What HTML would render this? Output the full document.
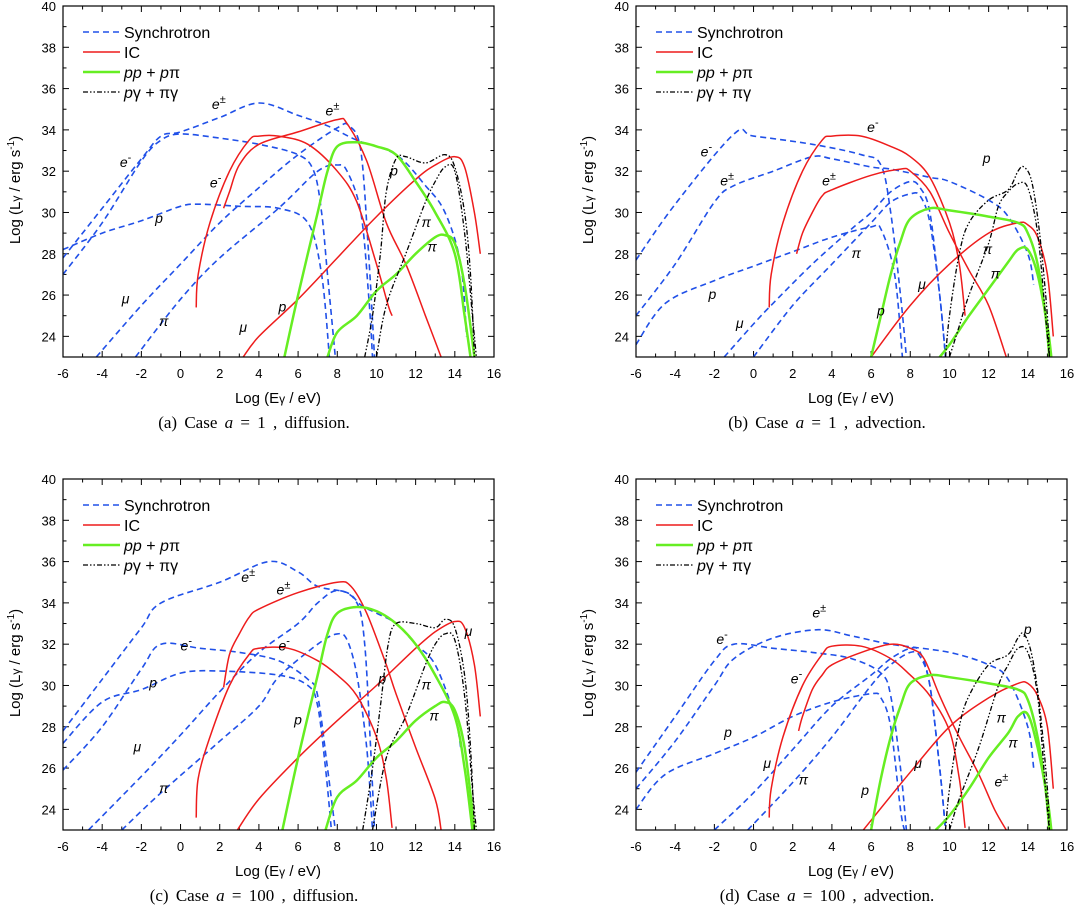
<!DOCTYPE html>
<html><head><meta charset="utf-8"><style>
html,body{margin:0;padding:0;background:#fff;}
svg{display:block;font-family:"Liberation Sans",Arial,sans-serif;}
.cap{font-family:"Liberation Serif",serif;font-size:17px;}
</style></head><body>
<svg id="fig" width="1076" height="905" viewBox="0 0 1076 905"></svg>
<script>
// axis ranges
const xTicks=[-6,-4,-2,0,2,4,6,8,10,12,14,16];
const yTicks=[24,26,28,30,32,34,36,38,40];
const captions=["(a) Case ","(b) Case ","(c) Case ","(d) Case "];
const capA=["1","1","100","100"];
const capMode=["diffusion.","advection.","diffusion.","advection."];

// Panel a
const aSynE=[[-6,27],[-4,29.5],[-2,32.5],[-1,33.5],[0,33.8],[2,33.6],[4,33.3],[6,32.8],[6.8,32],[7.2,30],[7.5,27],[7.9,23]];
const aSynEpm=[[-6,27.8],[-4,30.2],[-2,32.6],[-1,33.7],[0,33.9],[2,34.6],[4,35.3],[6,34.7],[7.5,34.2],[9,33.5],[11,32.8],[12.5,31.3],[13.5,30],[14.3,27.5],[14.6,24]];
const aSynP=[[-6,28.2],[-4,29],[-2,29.6],[0,30.3],[1,30.4],[3,30.3],[5,30.2],[6.5,29.5],[7.2,27],[7.6,23]];
const aSynMu=[[-4.3,23],[-2,25.5],[0,27.5],[2,29.5],[4,31.2],[6,32.8],[8,34.1],[8.6,34.2],[9.2,33],[9.6,28],[9.9,23]];
const aSynPi=[[-2.3,23],[0,25.8],[2,27.8],[5,30.2],[7,32],[8,32.3],[8.5,32],[9.2,30],[9.6,26],[9.8,23]];
const aIcE=[[0.8,25.4],[0.9,27],[1.5,29.5],[2.5,32],[3.5,33.5],[4,33.7],[5,33.7],[6.5,33.3],[8,32],[9,30.5],[10,27.5],[10.6,25.5],[10.8,25]];
const aIcEpm=[[2.2,30.2],[2.5,31],[3,32.3],[4,33.3],[6,33.9],[8,34.5],[8.5,34.3],[9.5,32.5],[10.5,29.5],[11.5,27.5],[12.5,25],[13.3,23]];
const aIcMu=[[3.2,23],[4,24],[6,25.8],[8,27.8],[10,29.8],[12,31.6],[13,32.3],[14,32.7],[14.5,32.2],[15,30],[15.3,28]];
const aPpP=[[5.3,23],[6,26],[7,30],[7.5,32],[8,33.2],[9,33.4],[10,33.2],[11,32.8],[12,31.5],[13,30],[14,28],[14.5,25],[14.8,23]];
const aPpPi=[[7.5,23],[8,24.2],[9,25],[10,26.2],[11,27],[12,28],[13,28.8],[13.5,28.9],[14,28.5],[14.5,26.5],[15,23]];
const aPgP=[[9.4,23],[9.8,25],[10.2,28],[10.5,31],[11,32.6],[11.5,32.7],[12.5,32.4],[13.5,32.8],[14,32.2],[14.5,30],[14.8,27],[15,23]];
const aPgPi=[[10,23],[10.5,25.5],[11.5,28],[12.5,30.5],[13,31.5],[13.5,32.2],[14,32],[14.5,29],[14.9,25],[15.1,23]];

// Panel b
const bSynE=[[-6,27.7],[-4,30.4],[-1,33.8],[0,33.7],[3,33.3],[5.5,32.8],[6.5,32.3],[7,30],[7.5,26],[7.8,23]];
const bSynEpm=[[-6,25],[-4,27.5],[-2,30.5],[-1,31.3],[1,32],[3,32.7],[4,32.6],[6,32.2],[7,32.1],[9,31.7],[10,31.5],[12,30.6],[13,29.8],[14,28],[14.3,26.5]];
const bSynP=[[-6,23.6],[-4.5,25.6],[-2,26.7],[0,27.4],[2,28.1],[4,28.8],[6,29.3],[6.5,29.2],[7.2,27],[7.6,23]];
const bSynMu=[[-1.5,23],[0,24.6],[1,25.6],[3,27.5],[5,29.2],[6,30],[7,31],[8,31.5],[8.5,31.2],[9,30],[9.5,26],[9.8,23]];
const bSynPi=[[0,23],[2,25.5],[4,27.5],[6,29.5],[7,30.5],[8,30.9],[8.5,30.8],[9,29.5],[9.5,26],[9.8,23]];
const bIcE=[[0.8,25.4],[0.9,27],[1.5,29.5],[2.5,32],[3.5,33.5],[4,33.7],[5.5,33.7],[7,33.2],[8,32.7],[9,31.7],[10,29.5],[10.5,27.5],[10.8,25]];
const bIcEpm=[[2.2,28],[2.5,29],[3,30],[3.5,30.8],[4,31.1],[6,31.8],[7.5,32.1],[8,32],[9,31],[10,29],[11,27.2],[12,25.5],[12.9,23]];
const bIcMu=[[6,23],[8,25.5],[10,27.5],[12,29],[13.5,29.5],[14,29.4],[14.5,28.8],[15,27],[15.3,24]];
const bPpP=[[6,23],[6.5,25],[7,27],[7.5,28.6],[8,29.7],[9,30.2],[10,30.1],[12,29.8],[13.5,29.5],[14,29],[14.5,27.5],[14.9,25],[15.1,23]];
const bPpPi=[[9.5,23],[10,23.6],[11,25],[12,26.3],[13,27.6],[13.5,28.2],[14,28.2],[14.5,27],[15,24.5],[15.2,23]];
const bPgP=[[9.8,23],[10,25],[10.5,28],[11,29.5],[12,30.6],[13,31.1],[13.5,32],[13.8,32.2],[14.2,31.5],[14.6,29],[15,25],[15.1,23]];
const bPgPi=[[10,23],[10.5,24.5],[11,26],[12,28.5],[12.5,30.3],[13,31],[13.5,31.4],[14,31.2],[14.5,29],[14.9,25],[15.1,23]];

// Panel c
const cSynE=[[-6,25.9],[-4,28],[-2,30.8],[-1,32],[1,31.8],[3,31.6],[5,31.2],[6.5,30.3],[7,29.5],[7.5,26],[7.9,23]];
const cSynEpm=[[-6,27.8],[-4,30.3],[-2,32.8],[-1,34],[2,35],[4.5,36],[6,35.5],[7,34.8],[8.5,34.5],[9.2,33.9],[10,33.5],[11,33],[12,32],[13,31],[14,28.5],[14.3,27]];
const cSynP=[[-6,27.2],[-4,29.2],[-2,29.8],[0,30.6],[2,30.7],[5,30.5],[6.5,30],[7,29],[7.4,26],[7.7,23]];
const cSynMu=[[-4.7,23],[-2,25.6],[0,27.6],[2,29.7],[4,31.6],[6,33],[7,34],[8,34.6],[9,34],[9.4,32],[9.7,27],[9.9,23]];
const cSynPi=[[-3,23],[-1,24.8],[2,27.3],[4,29],[5,30.4],[7,32],[8,32.5],[8.5,32.2],[9,30.5],[9.5,27],[9.8,23]];
const cIcE=[[0.8,23.6],[0.9,25.5],[1.5,27.5],[2.5,30],[3.5,31.5],[4,31.8],[5.5,31.8],[7,31.2],[8,30.5],[9,29.5],[10,27.5],[10.5,25.5],[10.8,23.1]];
const cIcEpm=[[2.2,29.9],[2.5,31.5],[3,32.5],[3.5,33.3],[4,33.7],[6,34.5],[8,35],[8.7,34.8],[9.5,33.5],[10.5,31],[11,29.6],[12,27],[13,24.5],[13.3,23]];
const cIcMu=[[2.9,23],[4,24.5],[6,26.5],[8,28.3],[10,30],[12,31.8],[13,32.6],[14,33.1],[14.5,32.8],[15,31],[15.3,28.5]];
const cPpP=[[5.2,23],[6,26.5],[7,30.5],[7.5,32.5],[8,33.5],[9,33.8],[10,33.6],[11,33],[12,32],[13,30.5],[14,28.5],[14.5,26],[14.9,23]];
const cPpPi=[[7.4,23],[8,24.6],[9,25.4],[10,26.5],[11,27.3],[12,28.3],[13,29],[13.5,29.2],[14,28.8],[14.5,27],[15,23]];
const cPgP=[[9.3,23],[9.8,26],[10.2,29],[10.6,32],[11,33],[12,33],[13,32.8],[13.5,33.2],[14,32.8],[14.5,30.5],[14.8,27],[15,23]];
const cPgPi=[[9.8,23],[10.5,26.5],[11.5,28.5],[12.5,31],[13,32],[13.5,32.5],[14,32.2],[14.5,29.5],[14.9,25],[15.1,23]];

// Panel d
const dSynE=[[-6,25.8],[-4,28.5],[-2,31.2],[-1,32],[1,31.8],[3,31.6],[5,31.3],[6.5,30.6],[7,29.5],[7.5,26],[7.8,23]];
const dSynEpm=[[-6,25],[-4,27.3],[-2,30],[-1,31.3],[1,32.3],[3.3,32.7],[5,32.4],[7,32],[10,31.6],[12,31],[13,30.3],[14,28],[14.3,26]];
const dSynP=[[-6,24],[-4.5,25.7],[-2,26.7],[0,27.5],[2,28.5],[4,29.2],[6,29.6],[6.5,29.4],[7,28],[7.5,24],[7.7,23]];
const dSynMu=[[-2,23],[0,24.8],[2,26.9],[4,29],[6,30.5],[7,31.3],[8,31.8],[8.5,31.6],[9,30],[9.5,26],[9.8,23]];
const dSynPi=[[-0.3,23],[2,25.3],[4,27.5],[6,30],[7,31],[8,31.6],[8.5,31.4],[9,30],[9.5,26],[9.8,23]];
const dIcE=[[0.8,23.6],[0.9,25],[1.5,27.5],[2.5,30],[3.5,31.5],[4,31.9],[5.5,31.9],[7,31.3],[8,30.5],[9,29.5],[10,27.8],[10.5,25.5],[10.8,23.1]];
const dIcEpm=[[2.3,27.8],[2.5,28.5],[3,29.8],[3.5,30.5],[4,31],[5.5,31.6],[7,32],[8,31.8],[8.7,31.3],[9.5,29.5],[10.5,27.5],[11.5,25.7],[12.3,24],[12.9,23]];
const dIcMu=[[5.6,23],[8,25.8],[10,28],[12,29.4],[13.5,30.1],[14,30.1],[14.5,29.5],[15,28],[15.3,25]];
const dPpP=[[6,23],[6.5,25.5],[7,27.5],[7.5,29],[8,30.1],[9,30.5],[10,30.4],[12,30.1],[13.5,29.8],[14,29.3],[14.5,27.5],[14.9,25],[15.1,23]];
const dPpPi=[[9.3,23],[10,23.7],[11,25],[12,26.5],[13,27.7],[13.5,28.5],[14,28.6],[14.5,27],[15,24.5],[15.2,23]];
const dPgP=[[9.8,23],[10,25],[10.5,28],[11,29.5],[12,31],[13,31.5],[13.5,32.3],[13.8,32.5],[14.2,31.5],[14.6,29],[15,25],[15.1,23]];
const dPgPi=[[10,23],[10.5,24.5],[11.5,27],[12.5,30],[13,31],[13.5,31.8],[14,31.6],[14.5,29.5],[14.9,25],[15.1,23]];

const aLabels=[["e","±",1.6,35.0],["e","±",7.4,34.7],["e","-",-3.1,32.2],["e","-",1.5,31.2],["p","",-1.3,29.5],["p","",10.7,31.8],["π","",12.3,29.3],["π","",12.6,28.1],["μ","",-3.0,25.6],["π","",-1.1,24.5],["μ","",3.0,24.2],["p","",5.0,25.2]];
const bLabels=[["e","-",5.8,33.9],["e","-",-2.7,32.7],["e","±",-1.7,31.3],["e","±",3.5,31.3],["p","",11.7,32.4],["π","",11.7,28.0],["π","",12.1,26.8],["π","",5.0,27.8],["μ","",8.4,26.3],["p","",-2.3,25.8],["μ","",-0.9,24.4],["p","",6.3,25.0]];
const cLabels=[["e","±",3.1,35.0],["e","±",4.9,34.4],["e","-",0.0,31.7],["e","-",5.0,31.7],["μ","",14.5,32.4],["p","",-1.6,29.9],["p","",10.1,30.1],["π","",12.3,29.8],["π","",12.7,28.3],["p","",5.8,28.1],["μ","",-2.4,26.8],["π","",-1.1,24.8]];
const dLabels=[["e","±",3.0,33.3],["e","-",-1.9,32.0],["e","-",1.9,30.1],["p","",13.8,32.5],["π","",12.4,28.2],["π","",13.0,27.0],["p","",-1.5,27.5],["μ","",0.5,26.0],["π","",2.3,25.2],["μ","",8.2,26.0],["p","",5.5,24.7],["e","±",12.3,25.1]];

const panels=[
 {ox:0,oy:0,syn:[aSynE,aSynEpm,aSynP,aSynMu,aSynPi],ic:[aIcE,aIcEpm,aIcMu],pp:[aPpP,aPpPi],pg:[aPgP,aPgPi],labels:aLabels},
 {ox:573,oy:0,syn:[bSynE,bSynEpm,bSynP,bSynMu,bSynPi],ic:[bIcE,bIcEpm,bIcMu],pp:[bPpP,bPpPi],pg:[bPgP,bPgPi],labels:bLabels},
 {ox:0,oy:473,syn:[cSynE,cSynEpm,cSynP,cSynMu,cSynPi],ic:[cIcE,cIcEpm,cIcMu],pp:[cPpP,cPpPi],pg:[cPgP,cPgPi],labels:cLabels},
 {ox:573,oy:473,syn:[dSynE,dSynEpm,dSynP,dSynMu,dSynPi],ic:[dIcE,dIcEpm,dIcMu],pp:[dPpP,dPpPi],pg:[dPgP,dPgPi],labels:dLabels}
];

const NS="http://www.w3.org/2000/svg";
const svg=document.getElementById('fig');
const PL=63,PT=6,PW=431,PH=351,XMIN=-6,XMAX=16,YMIN=23,YMAX=40;
function mk(tag,attrs,parent){const e=document.createElementNS(NS,tag);for(const k in attrs)e.setAttribute(k,attrs[k]);parent.appendChild(e);return e;}

panels.forEach((P,i)=>{
  const sx=v=>P.ox+PL+(v-XMIN)/(XMAX-XMIN)*PW;
  const sy=v=>P.oy+PT+(YMAX-v)/(YMAX-YMIN)*PH;
  const g=mk('g',{},svg);
  
  
  const cp=mk('clipPath',{id:'clip'+i},g);
  mk('rect',{x:P.ox+PL,y:P.oy+PT,width:PW,height:PH},cp);
  const ax=mk('g',{stroke:'#000','stroke-width':1},g);
  
  
  for(let v=XMIN;v<=XMAX;v++){
    const L=(v%2===0)?6:3.5,x=sx(v);
    mk('line',{x1:x,x2:x,y1:P.oy+PT+PH,y2:P.oy+PT+PH-L},ax);
    mk('line',{x1:x,x2:x,y1:P.oy+PT,y2:P.oy+PT+L},ax);
  }
  for(let v=YMIN;v<=YMAX;v++){
    const L=(v%2===0)?6:3.5,y=sy(v);
    mk('line',{x1:P.ox+PL,x2:P.ox+PL+L,y1:y,y2:y},ax);
    mk('line',{x1:P.ox+PL+PW,x2:P.ox+PL+PW-L,y1:y,y2:y},ax);
  }
  xTicks.forEach(v=>{const t=mk('text',{x:sx(v),y:P.oy+378,'font-size':13,'text-anchor':'middle'},g);t.textContent=String(v);
    });
  yTicks.forEach(v=>{const t=mk('text',{x:P.ox+56,y:sy(v)+5,'font-size':13,'text-anchor':'end'},g);t.textContent=String(v);
    });
  const xt=mk('text',{x:P.ox+278,y:P.oy+403,'font-size':15,'text-anchor':'middle'},g);
  
  xt.innerHTML='Log (E<tspan font-size="12">γ</tspan> / eV)';
  const yt=mk('text',{x:0,y:0,'font-size':15,'text-anchor':'middle',transform:`translate(${P.ox+20},${P.oy+190}) rotate(-90)`},g);
  
  yt.innerHTML='Log (L<tspan font-size="12">γ</tspan> / erg s<tspan dy="-6" font-size="10">-1</tspan><tspan dy="6">)</tspan>';
  const cap=mk('text',{x:P.ox+254,y:P.oy+428,'text-anchor':'middle',class:'cap','word-spacing':'3'},g);
  
  cap.innerHTML=captions[i]+'<tspan font-style="italic">a</tspan> = '+capA[i]+' , '+capMode[i];
  const cg=mk('g',{'clip-path':`url(#clip${i})`,fill:'none','stroke-linejoin':'round'},g);
  const path=(pts)=>{
    const q=pts.map(p=>[sx(p[0]),sy(p[1])]);
    let d='M'+q[0][0].toFixed(1)+','+q[0][1].toFixed(1);
    for(let k=0;k<q.length-1;k++){
      const p0=q[k-1]||q[k],p1=q[k],p2=q[k+1],p3=q[k+2]||q[k+1];
      const c1=[p1[0]+(p2[0]-p0[0])/6,p1[1]+(p2[1]-p0[1])/6];
      const c2=[p2[0]-(p3[0]-p1[0])/6,p2[1]-(p3[1]-p1[1])/6];
      d+='C'+c1.map(v=>v.toFixed(1)).join(',')+' '+c2.map(v=>v.toFixed(1)).join(',')+' '+p2[0].toFixed(1)+','+p2[1].toFixed(1);
    }
    return d;
  };
  const names=['e-minus','e-pm','p','mu','pi'];
  P.syn.forEach((s,k)=>{const e=mk('path',{d:path(s),stroke:'#2050e8','stroke-width':1.6,'stroke-dasharray':'6,4'},cg);
    });
  const icn=['e-minus','e-pm','mu'];
  P.ic.forEach((s,k)=>{const e=mk('path',{d:path(s),stroke:'#ee1c1c','stroke-width':1.5},cg);
    });
  P.pp.forEach((s,k)=>{const e=mk('path',{d:path(s),stroke:'#66ee22','stroke-width':2.5},cg);
    });
  P.pg.forEach((s,k)=>{const e=mk('path',{d:path(s),stroke:'#000','stroke-width':1.3,'stroke-dasharray':'5,2,1.5,2,1.5,2'},cg);
    });
  const fr=mk('rect',{x:P.ox+PL,y:P.oy+PT,width:PW,height:PH,fill:'none',stroke:'#000','stroke-width':1.2},g);
  
  P.labels.forEach(L=>{const t=mk('text',{x:sx(L[2]),y:sy(L[3]),'font-size':14,'font-style':'italic'},g);
    
    t.innerHTML=L[0]+(L[1]?'<tspan dy="-6" font-size="11" font-style="normal">'+L[1]+'</tspan>':'');});
  const lg=mk('g',{},g);
  
  const lx=P.ox+83,ly=P.oy+32;
  const items=[['#2050e8',1.6,'6,4','Synchrotron'],['#ee1c1c',1.5,'','IC'],['#66ee22',2.5,'','<tspan font-style="italic">pp</tspan> + <tspan font-style="italic">p</tspan>π'],['#000',1.3,'5,2,1.5,2,1.5,2','<tspan font-style="italic">p</tspan>γ + πγ']];
  items.forEach((it,k)=>{
    const y=ly+k*20;
    const ent=mk('g',{},lg);
    
    const a={x1:lx,x2:lx+37,y1:y,y2:y,stroke:it[0],'stroke-width':it[1]};if(it[2])a['stroke-dasharray']=it[2];
    mk('line',a,ent);
    const t=mk('text',{x:lx+41,y:y+6,'font-size':16},ent);t.innerHTML=it[3];
  });
});
</script>
</body></html>
